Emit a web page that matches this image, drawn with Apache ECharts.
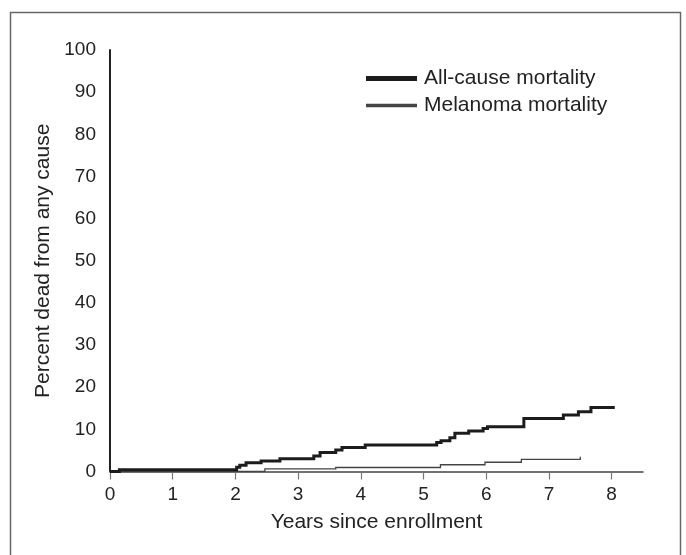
<!DOCTYPE html>
<html>
<head>
<meta charset="utf-8">
<script src="https://cdn.jsdelivr.net/npm/echarts@6/dist/echarts.min.js"></script>
<style>
  html, body { margin: 0; padding: 0; background: #fff; }
  #chart { width: 686px; height: 555px; }
</style>
</head>
<body>
<div id="chart"></div>
<script>
// Cumulative mortality (Kaplan-Meier style step curves)
const allCauseYears = [0, 0.15, 2.02, 2.07, 2.17, 2.41, 2.71, 3.25, 3.35, 3.6, 3.7, 4.07, 5.21, 5.28, 5.42, 5.5, 5.72, 5.95, 6.02, 6.6, 7.23, 7.47, 7.67, 8.05];
const allCausePct   = [0, 0.4, 1.0, 1.5, 2.1, 2.5, 3.0, 3.7, 4.5, 5.1, 5.7, 6.3, 6.9, 7.3, 8.0, 9.1, 9.6, 10.2, 10.6, 12.6, 13.4, 14.2, 15.2, 15.2];

const melanomaYears = [0, 2.47, 3.6, 5.27, 5.98, 6.56, 7.49, 7.5];
const melanomaPct   = [0, 0.6, 0.95, 1.6, 2.2, 2.9, 2.9, 3.5];

const seriesNames = ['All-cause mortality', 'Melanoma mortality'];
const xTicks = [0, 1, 2, 3, 4, 5, 6, 7, 8];
const yTicks = [0, 10, 20, 30, 40, 50, 60, 70, 80, 90, 100];

// Expand (time, value) pairs into a step path: hold the previous value until each event time.
function stepCoords(xs, ys) {
  const out = [[xs[0], ys[0]]];
  for (let i = 1; i < xs.length; i++) {
    out.push([xs[i], ys[i - 1]]);
    out.push([xs[i], ys[i]]);
  }
  return out;
}

const font = '"Liberation Sans", Arial, Helvetica, sans-serif';
const chart = echarts.init(document.getElementById('chart'), null, { renderer: 'canvas' });

chart.setOption({
  animation: false,
  backgroundColor: '#fff',
  textStyle: { fontFamily: font },
  graphic: [{
    type: 'polyline',
    shape: { points: [[10.5, 555], [10.5, 12.5], [680.5, 12.5], [680.5, 555]] },
    style: { stroke: '#666', lineWidth: 1.5, fill: null },
    silent: true
  }],
  grid: { left: 110, top: 50, right: 43, bottom: 83.5, containLabel: false },
  legend: {
    orient: 'vertical',
    left: 361,
    top: 63,
    itemWidth: 49,
    itemHeight: 14,
    itemGap: 6,
    textStyle: { fontFamily: font, fontSize: 21, color: '#222', padding: [0, 0, 0, 3] },
    data: [
      { name: seriesNames[0], icon: 'path://M0,0H49V3H0Z', itemStyle: { color: '#1c1c1c' } },
      { name: seriesNames[1], icon: 'path://M0,0H49V1.3H0Z', itemStyle: { color: '#444' } }
    ]
  },
  xAxis: {
    type: 'value',
    min: 0,
    max: 8.5,
    interval: 1,
    name: 'Years since enrollment',
    nameLocation: 'middle',
    nameGap: 40,
    nameTextStyle: { fontFamily: font, fontSize: 21, color: '#222' },
    axisLine: { show: true, onZero: false, lineStyle: { color: '#444', width: 1.5 } },
    axisTick: { show: true, length: 8, lineStyle: { color: '#777', width: 1.2 } },
    axisLabel: {
      fontFamily: font, fontSize: 19, color: '#222', margin: 14,
      showMaxLabel: false,
      formatter: v => (xTicks.includes(v) ? String(v) : '')
    },
    splitLine: { show: false }
  },
  yAxis: {
    type: 'value',
    min: 0,
    max: 100,
    interval: 10,
    name: 'Percent dead from any cause',
    nameLocation: 'middle',
    nameGap: 50,
    nameTextStyle: { fontFamily: font, fontSize: 21, color: '#222' },
    axisLine: { show: true, lineStyle: { color: '#222', width: 2 } },
    axisTick: { show: false },
    axisLabel: {
      fontFamily: font, fontSize: 19, color: '#222', margin: 14,
      formatter: v => (yTicks.includes(v) ? String(v) : '')
    },
    splitLine: { show: false }
  },
  series: [
    {
      name: seriesNames[0],
      type: 'lines',
      coordinateSystem: 'cartesian2d',
      polyline: true,
      data: [{ coords: stepCoords(allCauseYears, allCausePct) }],
      lineStyle: { color: '#1c1c1c', width: 3, opacity: 1, join: 'miter' },
      itemStyle: { color: '#1c1c1c' },
      z: 3
    },
    {
      name: seriesNames[1],
      type: 'lines',
      coordinateSystem: 'cartesian2d',
      polyline: true,
      data: [{ coords: stepCoords(melanomaYears, melanomaPct) }],
      lineStyle: { color: '#444', width: 1.3, opacity: 1, join: 'miter' },
      itemStyle: { color: '#444' },
      z: 2
    }
  ]
});
</script>
</body>
</html>
